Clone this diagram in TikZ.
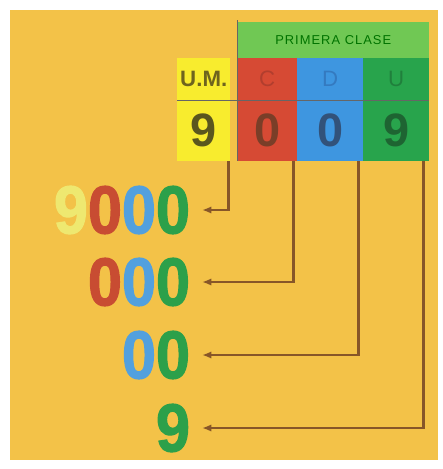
\documentclass[tikz,border=0pt]{standalone}
\usepackage{fontspec}
\setmainfont{Liberation Sans}
\newfontfamily\bigdigits[FakeStretch=0.9, BoldFeatures={FakeBold=1.6}]{Liberation Sans}
\newfontfamily\hdrfont[LetterSpace=8]{Liberation Sans}
\usepackage{tikz}
\usetikzlibrary{arrows.meta}

\definecolor{panel}{RGB}{243,194,72}
\definecolor{hdrgreen}{RGB}{112,200,84}
\definecolor{cellyellow}{RGB}{248,236,46}
\definecolor{cellred}{RGB}{214,74,52}
\definecolor{cellblue}{RGB}{62,150,224}
\definecolor{cellgreen}{RGB}{40,164,76}
\definecolor{linkbrown}{RGB}{135,86,40}
\definecolor{digyellow}{RGB}{238,232,112}
\definecolor{digred}{RGB}{200,76,50}
\definecolor{digblue}{RGB}{82,160,222}
\definecolor{diggreen}{RGB}{44,160,74}

\tikzset{
  cell/.style={anchor=north west, inner sep=0pt, minimum height=1.26cm},
  valcell/.style={cell, minimum height=1.83cm},
  bignum/.style={anchor=east, inner sep=0pt, outer sep=0.36cm,
    font=\bigdigits\bfseries\fontsize{58}{58}\selectfont},
  link/.style={linkbrown, line width=2.2pt, -{Latex[length=2.8mm,width=2.2mm]}},
  rule/.style={black!60, line width=0.8pt}
}

\begin{document}
\begin{tikzpicture}[x=0.03cm, y=-0.03cm]
  \useasboundingbox (0,0) rectangle (443,469);
  % background panel
  \fill[panel] (10,10) rectangle (438,460);

  % ---- header: primera clase ----
  \node[cell, fill=hdrgreen, minimum width=5.76cm, minimum height=1.08cm,
        font=\hdrfont\fontsize{11}{11}\selectfont, text=green!45!black] (hdr) at (237,22) {PRIMERA CLASE};

  % ---- label row ----
  \node[cell, fill=cellyellow, minimum width=1.59cm, font=\bfseries\fontsize{19}{19}\selectfont,
        text={rgb,255:red,110;green,100;blue,30}] (umlab) at (177,58) {U.M.};
  \node[cell, fill=cellred, minimum width=1.8cm, font=\fontsize{19}{19}\selectfont,
        text={rgb,255:red,178;green,62;blue,46}] (clab) at (237,58) {C};
  \node[cell, fill=cellblue, minimum width=1.98cm, font=\fontsize{19}{19}\selectfont,
        text={rgb,255:red,52;green,122;blue,192}] (dlab) at (297,58) {D};
  \node[cell, fill=cellgreen, minimum width=1.98cm, font=\fontsize{19}{19}\selectfont,
        text={rgb,255:red,32;green,128;blue,60}] (ulab) at (363,58) {U};

  % ---- value row ----
  \node[valcell, fill=cellyellow, minimum width=1.59cm, font=\bfseries\fontsize{40}{40}\selectfont,
        text={rgb,255:red,90;green,86;blue,30}] (umval) at (177,100) {9};
  \node[valcell, fill=cellred, minimum width=1.8cm, font=\bfseries\fontsize{40}{40}\selectfont,
        text={rgb,255:red,122;green,62;blue,40}] (cval) at (237,100) {0};
  \node[valcell, fill=cellblue, minimum width=1.98cm, font=\bfseries\fontsize{40}{40}\selectfont,
        text={rgb,255:red,50;green,82;blue,122}] (dval) at (297,100) {0};
  \node[valcell, fill=cellgreen, minimum width=1.98cm, font=\bfseries\fontsize{40}{40}\selectfont,
        text={rgb,255:red,30;green,100;blue,50}] (uval) at (363,100) {9};

  % separating lines
  \draw[rule] ([yshift=0.06cm]hdr.north west) -- (cval.south west);
  \draw[rule] (umlab.south west) -- (ulab.south east);

  % ---- decomposed numbers ----
  \node[bignum] (n9000) at (202,210) {\color{digyellow}9\color{digred}0\color{digblue}0\color{diggreen}0};
  \node[bignum] (n000) at (202,282) {\color{digred}0\color{digblue}0\color{diggreen}0};
  \node[bignum] (n00) at (202,355) {\color{digblue}0\color{diggreen}0};
  \node[bignum] (n9) at (202,428) {\color{diggreen}9};

  % links from each column
  \draw[link] ([xshift=-0.06cm]umval.south east) |- (n9000.east);
  \draw[link] ([xshift=-0.12cm]cval.south east) |- (n000.east);
  \draw[link] ([xshift=-0.15cm]dval.south east) |- (n00.east);
  \draw[link] ([xshift=-0.18cm]uval.south east) |- (n9.east);
\end{tikzpicture}
\end{document}
